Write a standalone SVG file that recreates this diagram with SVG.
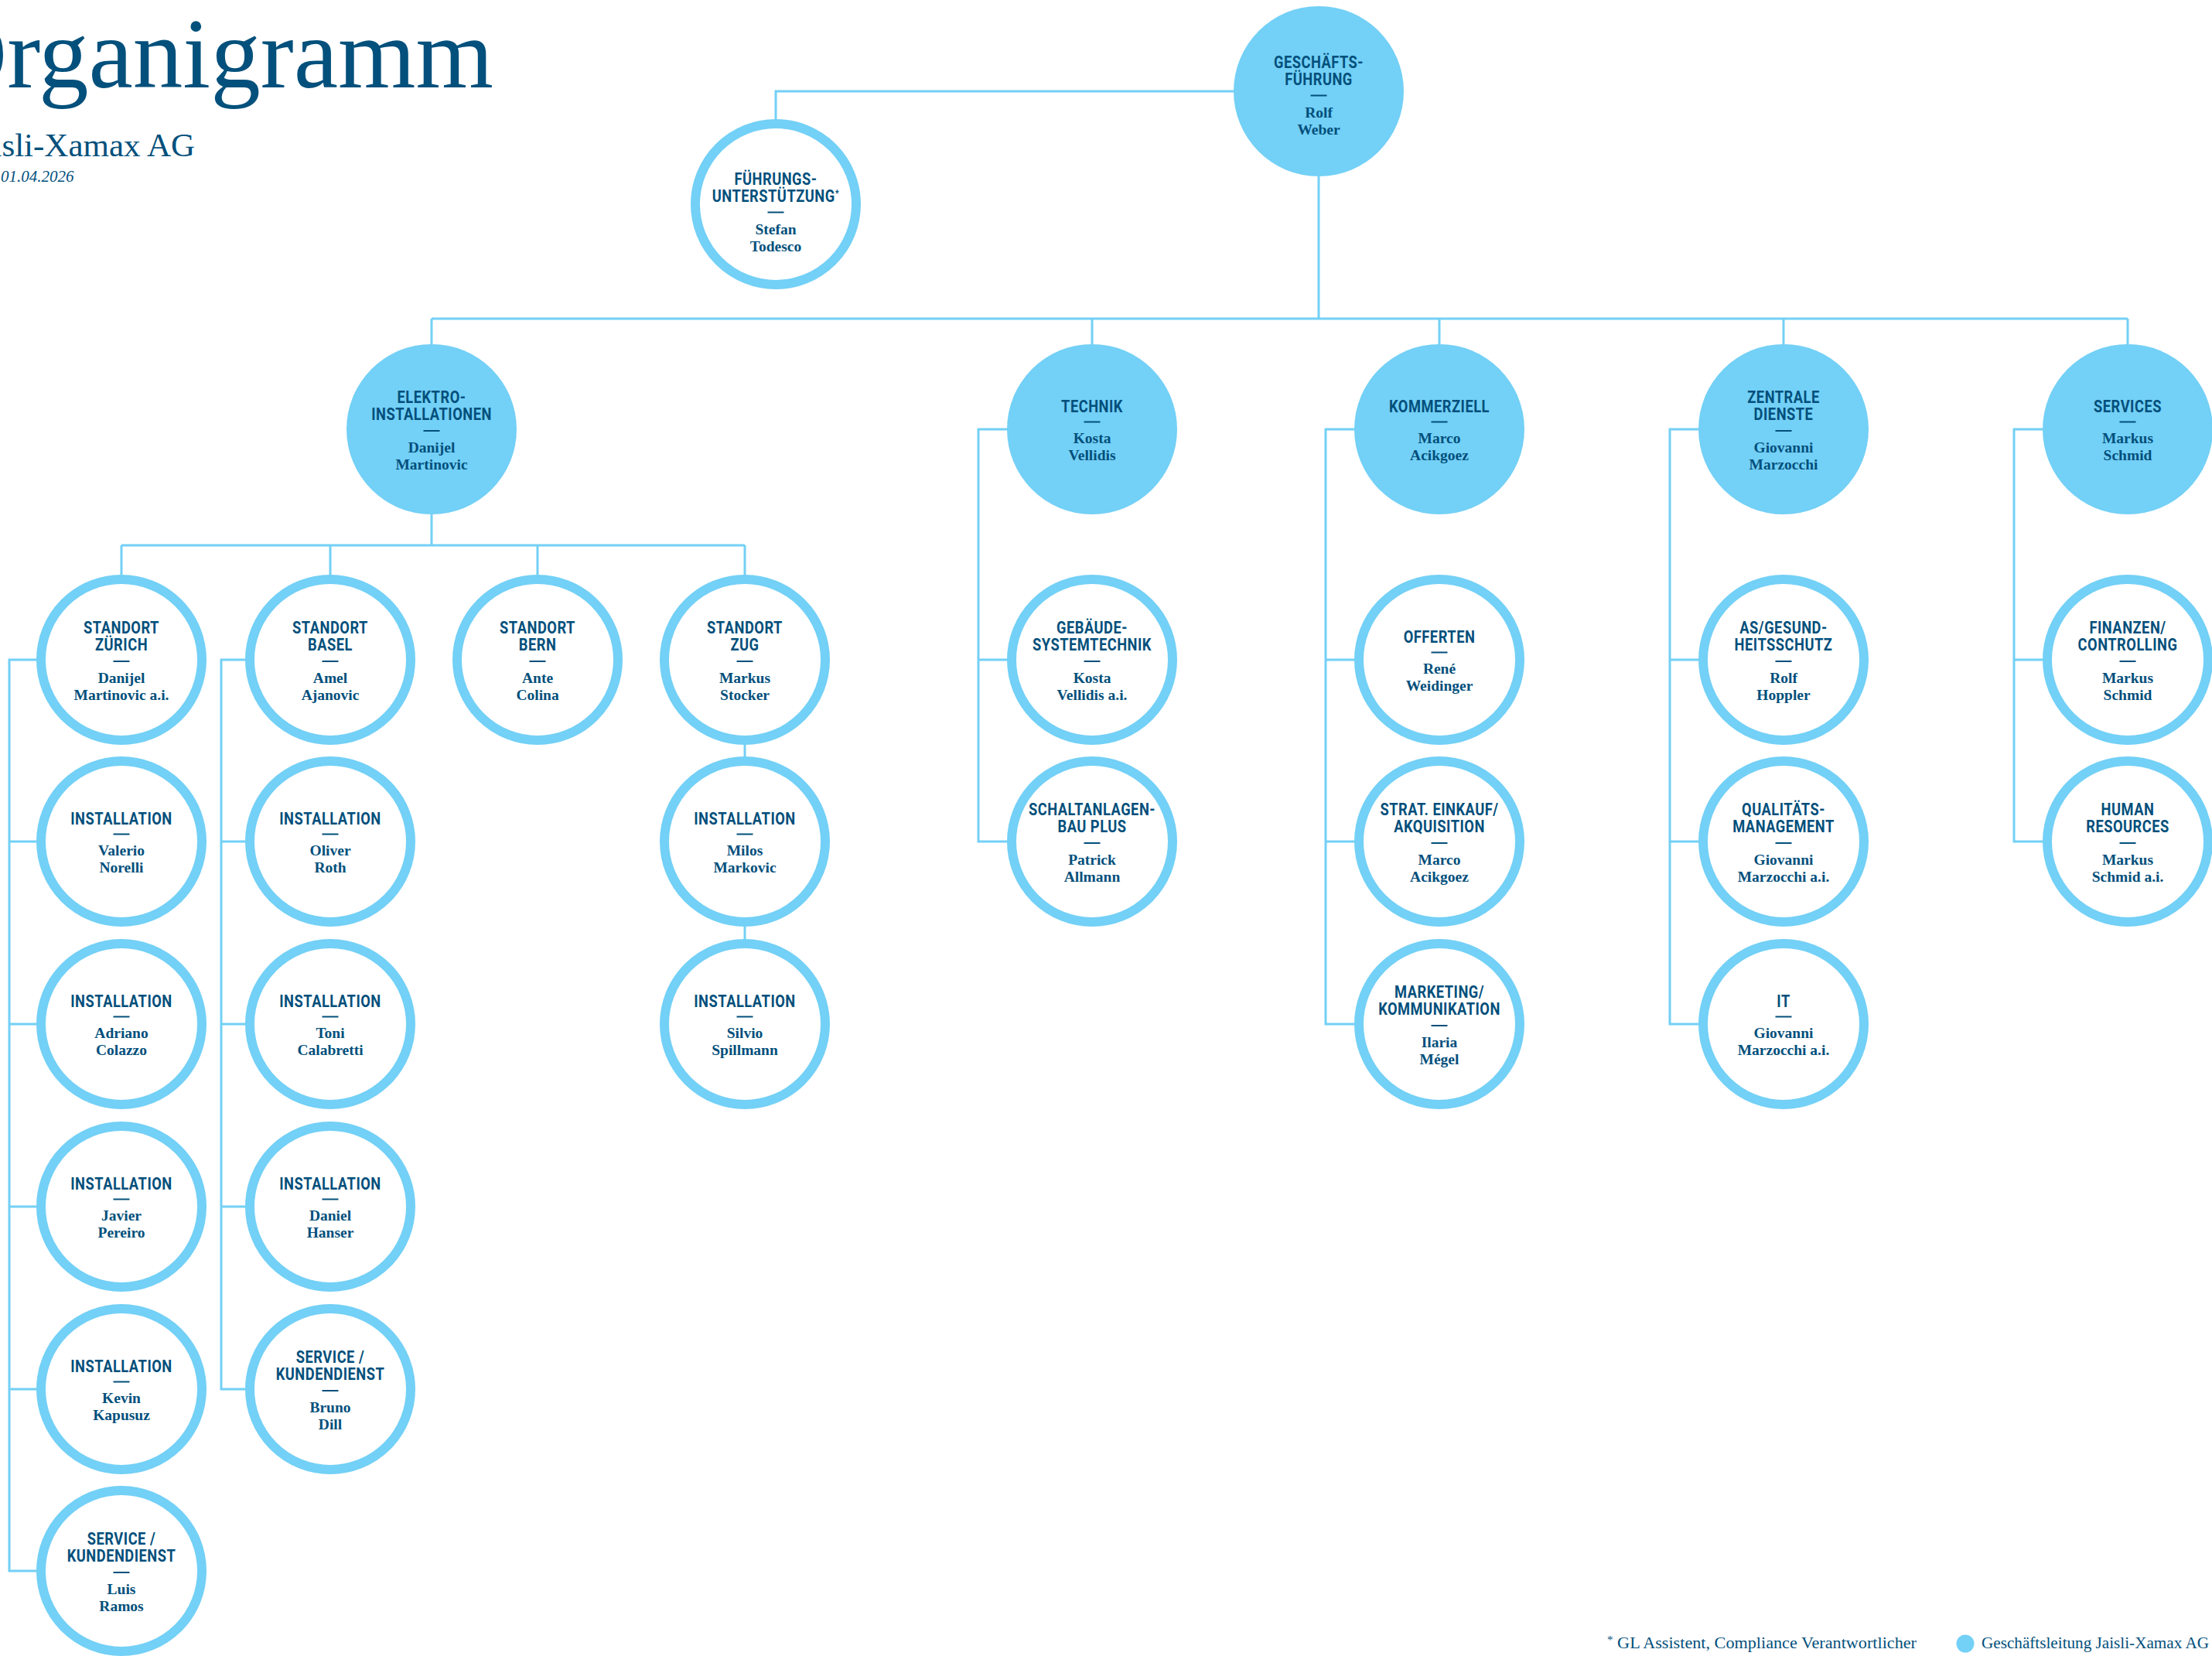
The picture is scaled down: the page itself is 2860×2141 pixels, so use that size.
<svg xmlns="http://www.w3.org/2000/svg" width="2860" height="2141" viewBox="0 0 2860 2141">
<style>
.bg{fill:#fff}
.fill{fill:#73d0f6}
.ring{fill:#fff;stroke:#73d0f6;stroke-width:12}
.t{font-family:Roboto,'Liberation Sans',sans-serif;font-weight:700;font-size:21.5px;letter-spacing:0.6px;fill:#024f7b;text-anchor:middle}
.n{font-family:'Liberation Serif',serif;font-weight:700;font-size:19.5px;fill:#024f7b;text-anchor:middle}
.d{stroke:#024f7b;stroke-width:2}
.c{fill:none;stroke:#73d0f6;stroke-width:3}
.h{font-family:'Liberation Serif',serif;fill:#03507c}
</style>
<rect class="bg" x="0" y="0" width="2860" height="2141"/>
<g id="header">
<text class="h" x="-84" y="113" font-size="130" textLength="722" lengthAdjust="spacingAndGlyphs">Organigramm</text>
<text class="h" x="252" y="202" font-size="43" text-anchor="end">Jaisli-Xamax AG</text>
<text class="h" x="1" y="235" font-size="21" font-style="italic">01.04.2026</text>
</g>
<g id="connectors">
<path class="c" d="M1595 118H1003V154"/>
<path class="c" d="M1705 228V412"/>
<path class="c" d="M558 412H2751"/>
<path class="c" d="M558 412V445M1412 412V445M1861 412V445M2306 412V445M2751 412V445"/>
<path class="c" d="M558 665V705M157 705H963M157 705V743M427 705V743M695 705V743M963 705V743"/>
<path class="c" d="M47 853H12V2031H47M12 1088H47M12 1324H47M12 1560H47M12 1796H47"/>
<path class="c" d="M317 853H286V1796H317M286 1088H317M286 1324H317M286 1560H317"/>
<path class="c" d="M963 963V978M963 1198V1214"/>
<path class="c" d="M1302 555H1265V1088H1302M1265 853H1302"/>
<path class="c" d="M1751 555H1714V1324H1751M1714 853H1751M1714 1088H1751"/>
<path class="c" d="M2196 555H2159V1324H2196M2159 853H2196M2159 1088H2196"/>
<path class="c" d="M2641 555H2604V1088H2641M2604 853H2641"/>
</g>
<g id="n-gf" transform="translate(1705 118)"><circle class="fill" r="110"/><text class="t" transform="translate(0 -30) scale(.85 1)">GESCHÄFTS-</text><text class="t" transform="translate(0 -8) scale(.85 1)">FÜHRUNG</text><line class="d" x1="-10.5" y1="5.5" x2="10.5" y2="5.5"/><text class="n" y="34">Rolf</text><text class="n" y="55.5">Weber</text></g>
<g id="n-fu" transform="translate(1003 264)"><circle class="ring" r="104"/><text class="t" transform="translate(0 -25) scale(.85 1)">FÜHRUNGS-</text><text class="t" transform="translate(0 -3) scale(.85 1)">UNTERSTÜTZUNG<tspan font-size="13" dy="-7">*</tspan></text><line class="d" x1="-10.5" y1="10.5" x2="10.5" y2="10.5"/><text class="n" y="39">Stefan</text><text class="n" y="60.5">Todesco</text></g>
<g id="n-elektro" transform="translate(558 555)"><circle class="fill" r="110"/><text class="t" transform="translate(0 -34) scale(.85 1)">ELEKTRO-</text><text class="t" transform="translate(0 -12) scale(.85 1)">INSTALLATIONEN</text><line class="d" x1="-10.5" y1="2" x2="10.5" y2="2"/><text class="n" y="30">Danijel</text><text class="n" y="51.5">Martinovic</text></g>
<g id="n-technik" transform="translate(1412 555)"><circle class="fill" r="110"/><text class="t" transform="translate(0 -22) scale(.85 1)">TECHNIK</text><line class="d" x1="-10.5" y1="-9.5" x2="10.5" y2="-9.5"/><text class="n" y="18">Kosta</text><text class="n" y="39.5">Vellidis</text></g>
<g id="n-kommerziell" transform="translate(1861 555)"><circle class="fill" r="110"/><text class="t" transform="translate(0 -22) scale(.85 1)">KOMMERZIELL</text><line class="d" x1="-10.5" y1="-9.5" x2="10.5" y2="-9.5"/><text class="n" y="18">Marco</text><text class="n" y="39.5">Acikgoez</text></g>
<g id="n-zentrale" transform="translate(2306 555)"><circle class="fill" r="110"/><text class="t" transform="translate(0 -34) scale(.85 1)">ZENTRALE</text><text class="t" transform="translate(0 -12) scale(.85 1)">DIENSTE</text><line class="d" x1="-10.5" y1="2" x2="10.5" y2="2"/><text class="n" y="30">Giovanni</text><text class="n" y="51.5">Marzocchi</text></g>
<g id="n-services" transform="translate(2751 555)"><circle class="fill" r="110"/><text class="t" transform="translate(0 -22) scale(.85 1)">SERVICES</text><line class="d" x1="-10.5" y1="-9.5" x2="10.5" y2="-9.5"/><text class="n" y="18">Markus</text><text class="n" y="39.5">Schmid</text></g>
<g id="n-zuerich" transform="translate(157 853)"><circle class="ring" r="104"/><text class="t" transform="translate(0 -34) scale(.85 1)">STANDORT</text><text class="t" transform="translate(0 -12) scale(.85 1)">ZÜRICH</text><line class="d" x1="-10.5" y1="2" x2="10.5" y2="2"/><text class="n" y="30">Danijel</text><text class="n" y="51.5">Martinovic a.i.</text></g>
<g id="n-basel" transform="translate(427 853)"><circle class="ring" r="104"/><text class="t" transform="translate(0 -34) scale(.85 1)">STANDORT</text><text class="t" transform="translate(0 -12) scale(.85 1)">BASEL</text><line class="d" x1="-10.5" y1="2" x2="10.5" y2="2"/><text class="n" y="30">Amel</text><text class="n" y="51.5">Ajanovic</text></g>
<g id="n-bern" transform="translate(695 853)"><circle class="ring" r="104"/><text class="t" transform="translate(0 -34) scale(.85 1)">STANDORT</text><text class="t" transform="translate(0 -12) scale(.85 1)">BERN</text><line class="d" x1="-10.5" y1="2" x2="10.5" y2="2"/><text class="n" y="30">Ante</text><text class="n" y="51.5">Colina</text></g>
<g id="n-zug" transform="translate(963 853)"><circle class="ring" r="104"/><text class="t" transform="translate(0 -34) scale(.85 1)">STANDORT</text><text class="t" transform="translate(0 -12) scale(.85 1)">ZUG</text><line class="d" x1="-10.5" y1="2" x2="10.5" y2="2"/><text class="n" y="30">Markus</text><text class="n" y="51.5">Stocker</text></g>
<g id="n-z1" transform="translate(157 1088)"><circle class="ring" r="104"/><text class="t" transform="translate(0 -22) scale(.85 1)">INSTALLATION</text><line class="d" x1="-10.5" y1="-9.5" x2="10.5" y2="-9.5"/><text class="n" y="18">Valerio</text><text class="n" y="39.5">Norelli</text></g>
<g id="n-z2" transform="translate(157 1324)"><circle class="ring" r="104"/><text class="t" transform="translate(0 -22) scale(.85 1)">INSTALLATION</text><line class="d" x1="-10.5" y1="-9.5" x2="10.5" y2="-9.5"/><text class="n" y="18">Adriano</text><text class="n" y="39.5">Colazzo</text></g>
<g id="n-z3" transform="translate(157 1560)"><circle class="ring" r="104"/><text class="t" transform="translate(0 -22) scale(.85 1)">INSTALLATION</text><line class="d" x1="-10.5" y1="-9.5" x2="10.5" y2="-9.5"/><text class="n" y="18">Javier</text><text class="n" y="39.5">Pereiro</text></g>
<g id="n-z4" transform="translate(157 1796)"><circle class="ring" r="104"/><text class="t" transform="translate(0 -22) scale(.85 1)">INSTALLATION</text><line class="d" x1="-10.5" y1="-9.5" x2="10.5" y2="-9.5"/><text class="n" y="18">Kevin</text><text class="n" y="39.5">Kapusuz</text></g>
<g id="n-z5" transform="translate(157 2031)"><circle class="ring" r="104"/><text class="t" transform="translate(0 -34) scale(.85 1)">SERVICE /</text><text class="t" transform="translate(0 -12) scale(.85 1)">KUNDENDIENST</text><line class="d" x1="-10.5" y1="2" x2="10.5" y2="2"/><text class="n" y="30">Luis</text><text class="n" y="51.5">Ramos</text></g>
<g id="n-b1" transform="translate(427 1088)"><circle class="ring" r="104"/><text class="t" transform="translate(0 -22) scale(.85 1)">INSTALLATION</text><line class="d" x1="-10.5" y1="-9.5" x2="10.5" y2="-9.5"/><text class="n" y="18">Oliver</text><text class="n" y="39.5">Roth</text></g>
<g id="n-b2" transform="translate(427 1324)"><circle class="ring" r="104"/><text class="t" transform="translate(0 -22) scale(.85 1)">INSTALLATION</text><line class="d" x1="-10.5" y1="-9.5" x2="10.5" y2="-9.5"/><text class="n" y="18">Toni</text><text class="n" y="39.5">Calabretti</text></g>
<g id="n-b3" transform="translate(427 1560)"><circle class="ring" r="104"/><text class="t" transform="translate(0 -22) scale(.85 1)">INSTALLATION</text><line class="d" x1="-10.5" y1="-9.5" x2="10.5" y2="-9.5"/><text class="n" y="18">Daniel</text><text class="n" y="39.5">Hanser</text></g>
<g id="n-b4" transform="translate(427 1796)"><circle class="ring" r="104"/><text class="t" transform="translate(0 -34) scale(.85 1)">SERVICE /</text><text class="t" transform="translate(0 -12) scale(.85 1)">KUNDENDIENST</text><line class="d" x1="-10.5" y1="2" x2="10.5" y2="2"/><text class="n" y="30">Bruno</text><text class="n" y="51.5">Dill</text></g>
<g id="n-g1" transform="translate(963 1088)"><circle class="ring" r="104"/><text class="t" transform="translate(0 -22) scale(.85 1)">INSTALLATION</text><line class="d" x1="-10.5" y1="-9.5" x2="10.5" y2="-9.5"/><text class="n" y="18">Milos</text><text class="n" y="39.5">Markovic</text></g>
<g id="n-g2" transform="translate(963 1324)"><circle class="ring" r="104"/><text class="t" transform="translate(0 -22) scale(.85 1)">INSTALLATION</text><line class="d" x1="-10.5" y1="-9.5" x2="10.5" y2="-9.5"/><text class="n" y="18">Silvio</text><text class="n" y="39.5">Spillmann</text></g>
<g id="n-t1" transform="translate(1412 853)"><circle class="ring" r="104"/><text class="t" transform="translate(0 -34) scale(.85 1)">GEBÄUDE-</text><text class="t" transform="translate(0 -12) scale(.85 1)">SYSTEMTECHNIK</text><line class="d" x1="-10.5" y1="2" x2="10.5" y2="2"/><text class="n" y="30">Kosta</text><text class="n" y="51.5">Vellidis a.i.</text></g>
<g id="n-t2" transform="translate(1412 1088)"><circle class="ring" r="104"/><text class="t" transform="translate(0 -34) scale(.85 1)">SCHALTANLAGEN-</text><text class="t" transform="translate(0 -12) scale(.85 1)">BAU PLUS</text><line class="d" x1="-10.5" y1="2" x2="10.5" y2="2"/><text class="n" y="30">Patrick</text><text class="n" y="51.5">Allmann</text></g>
<g id="n-k1" transform="translate(1861 853)"><circle class="ring" r="104"/><text class="t" transform="translate(0 -22) scale(.85 1)">OFFERTEN</text><line class="d" x1="-10.5" y1="-9.5" x2="10.5" y2="-9.5"/><text class="n" y="18">René</text><text class="n" y="39.5">Weidinger</text></g>
<g id="n-k2" transform="translate(1861 1088)"><circle class="ring" r="104"/><text class="t" transform="translate(0 -34) scale(.85 1)">STRAT. EINKAUF/</text><text class="t" transform="translate(0 -12) scale(.85 1)">AKQUISITION</text><line class="d" x1="-10.5" y1="2" x2="10.5" y2="2"/><text class="n" y="30">Marco</text><text class="n" y="51.5">Acikgoez</text></g>
<g id="n-k3" transform="translate(1861 1324)"><circle class="ring" r="104"/><text class="t" transform="translate(0 -34) scale(.85 1)">MARKETING/</text><text class="t" transform="translate(0 -12) scale(.85 1)">KOMMUNIKATION</text><line class="d" x1="-10.5" y1="2" x2="10.5" y2="2"/><text class="n" y="30">Ilaria</text><text class="n" y="51.5">Mégel</text></g>
<g id="n-d1" transform="translate(2306 853)"><circle class="ring" r="104"/><text class="t" transform="translate(0 -34) scale(.85 1)">AS/GESUND-</text><text class="t" transform="translate(0 -12) scale(.85 1)">HEITSSCHUTZ</text><line class="d" x1="-10.5" y1="2" x2="10.5" y2="2"/><text class="n" y="30">Rolf</text><text class="n" y="51.5">Hoppler</text></g>
<g id="n-d2" transform="translate(2306 1088)"><circle class="ring" r="104"/><text class="t" transform="translate(0 -34) scale(.85 1)">QUALITÄTS-</text><text class="t" transform="translate(0 -12) scale(.85 1)">MANAGEMENT</text><line class="d" x1="-10.5" y1="2" x2="10.5" y2="2"/><text class="n" y="30">Giovanni</text><text class="n" y="51.5">Marzocchi a.i.</text></g>
<g id="n-d3" transform="translate(2306 1324)"><circle class="ring" r="104"/><text class="t" transform="translate(0 -22) scale(.85 1)">IT</text><line class="d" x1="-10.5" y1="-9.5" x2="10.5" y2="-9.5"/><text class="n" y="18">Giovanni</text><text class="n" y="39.5">Marzocchi a.i.</text></g>
<g id="n-s1" transform="translate(2751 853)"><circle class="ring" r="104"/><text class="t" transform="translate(0 -34) scale(.85 1)">FINANZEN/</text><text class="t" transform="translate(0 -12) scale(.85 1)">CONTROLLING</text><line class="d" x1="-10.5" y1="2" x2="10.5" y2="2"/><text class="n" y="30">Markus</text><text class="n" y="51.5">Schmid</text></g>
<g id="n-s2" transform="translate(2751 1088)"><circle class="ring" r="104"/><text class="t" transform="translate(0 -34) scale(.85 1)">HUMAN</text><text class="t" transform="translate(0 -12) scale(.85 1)">RESOURCES</text><line class="d" x1="-10.5" y1="2" x2="10.5" y2="2"/><text class="n" y="30">Markus</text><text class="n" y="51.5">Schmid a.i.</text></g>
<g id="legend">
<text class="h" x="2078" y="2131" font-size="20.5" textLength="400" lengthAdjust="spacingAndGlyphs"><tspan font-size="14" dy="-6">*</tspan><tspan dy="6"> GL Assistent, Compliance Verantwortlicher</tspan></text>
<circle class="fill" cx="2541" cy="2125" r="11.5"/>
<text class="h" x="2562" y="2131" font-size="20.5" textLength="294" lengthAdjust="spacingAndGlyphs">Geschäftsleitung Jaisli-Xamax AG</text>
</g>
</svg>
